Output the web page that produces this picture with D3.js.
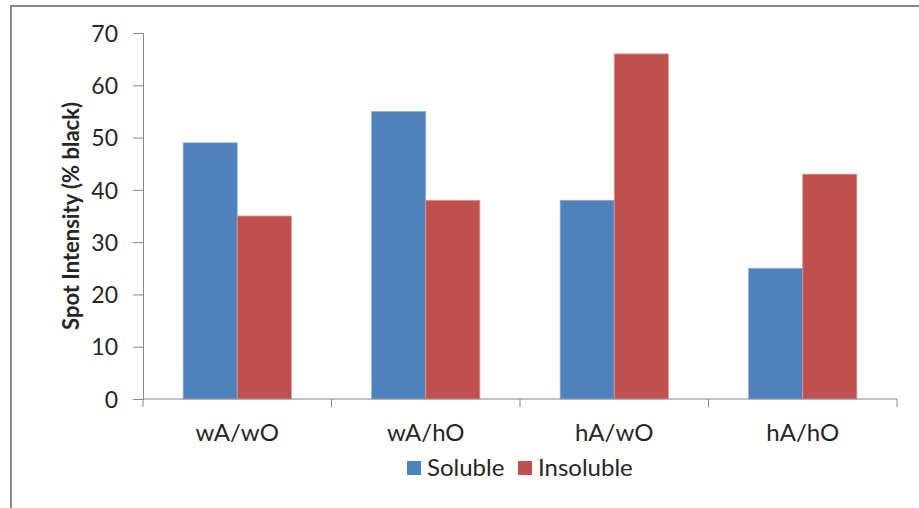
<!DOCTYPE html>
<html>
<head>
<meta charset="utf-8">
<script src="https://cdn.jsdelivr.net/npm/d3@7"></script>
<style>
body { margin: 0; background: #fff; }
text { font-family: Lato, "Open Sans", sans-serif; fill: #262626; }
</style>
</head>
<body>
<div id="chart"></div>
<script>
var categories = ["wA/wO", "wA/hO", "hA/wO", "hA/hO"];
var seriesNames = ["Soluble", "Insoluble"];
var soluble = [49, 55, 38, 25];
var insoluble = [35, 38, 66, 43];
var yTicks = [0, 10, 20, 30, 40, 50, 60, 70];
var colors = ["#4F81BD", "#C0504D"];
var edges = ["#8fb0d8", "#d99694"];

var w = 919, h = 508;
var margin = {top: 33, right: 22, bottom: 109, left: 143};

var svg = d3.select("#chart").append("svg")
	.attr("width", w)
	.attr("height", h);

// outer frame (right and bottom fall off the picture)
svg.append("rect")
	.attr("x", 11).attr("y", 6)
	.attr("width", w).attr("height", h)
	.attr("fill", "none")
	.attr("stroke", "#8c8c8c")
	.attr("stroke-width", 2);

var x = d3.scaleBand().domain(categories).range([0, w - margin.left - margin.right]);
var y = d3.scaleLinear().domain([0, 70]).range([h - margin.top - margin.bottom, 0]);
var inner = d3.scaleBand().domain(seriesNames).range([x.bandwidth() * 0.213, x.bandwidth() * 0.787]);

var chart = svg.append("g")
	.attr("transform", "translate(" + margin.left + "," + margin.top + ")");

var data = [];
categories.forEach(function(c, i) {
	data.push({cat: c, s: 0, v: soluble[i]});
	data.push({cat: c, s: 1, v: insoluble[i]});
});

chart.selectAll(".bar")
	.data(data).enter()
	.append("rect")
	.attr("class", "bar")
	.attr("x", function(d) { return x(d.cat) + inner(seriesNames[d.s]); })
	.attr("y", function(d) { return y(d.v); })
	.attr("width", inner.bandwidth())
	.attr("height", function(d) { return y(0) - y(d.v); })
	.attr("fill", function(d) { return colors[d.s]; })
	.attr("stroke", function(d) { return edges[d.s]; })
	.attr("stroke-width", 0.8);

var yAxis = d3.axisLeft(y).tickValues(yTicks).tickSize(10).tickPadding(15);
var gy = chart.append("g").call(yAxis);
gy.select(".domain").attr("stroke", "#868686");
gy.selectAll(".tick line").attr("stroke", "#868686");
gy.selectAll(".tick text").style("font-size", "23px").attr("fill", "#262626").attr("dy", "0.36em");

// x axis with ticks at category boundaries
var plotW = w - margin.left - margin.right;
var gx = chart.append("g").attr("transform", "translate(0," + y(0) + ")");
gx.append("line").attr("x1", 0).attr("x2", plotW)
	.attr("stroke", "#868686");
var bounds = categories.map(function(c) { return x(c); }).concat([plotW]);
gx.selectAll(".xt").data(bounds).enter()
	.append("line")
	.attr("x1", function(d) { return d; }).attr("x2", function(d) { return d; })
	.attr("y1", 0).attr("y2", 8)
	.attr("stroke", "#868686");
gx.selectAll(".xl").data(categories).enter()
	.append("text")
	.attr("x", function(d) { return x(d) + x.bandwidth() / 2; })
	.attr("y", 42)
	.attr("text-anchor", "middle")
	.style("font-size", "24px")
	.text(function(d) { return d; });

// y title
svg.append("text")
	.attr("transform", "translate(79," + (margin.top + y(35)) + ") rotate(-90)")
	.attr("text-anchor", "middle")
	.style("font-size", "22px")
	.style("font-weight", "bold")
	.text("Spot Intensity (% black)");

// legend
var legend = svg.append("g").attr("transform", "translate(407,461)");
var lx = [0, 111];
seriesNames.forEach(function(n, i) {
	legend.append("rect")
		.attr("x", lx[i]).attr("y", 0)
		.attr("width", 14).attr("height", 14)
		.attr("fill", colors[i]);
	legend.append("text")
		.attr("x", lx[i] + 20).attr("y", 15)
		.style("font-size", "24px")
		.text(n);
});
</script>
</body>
</html>
